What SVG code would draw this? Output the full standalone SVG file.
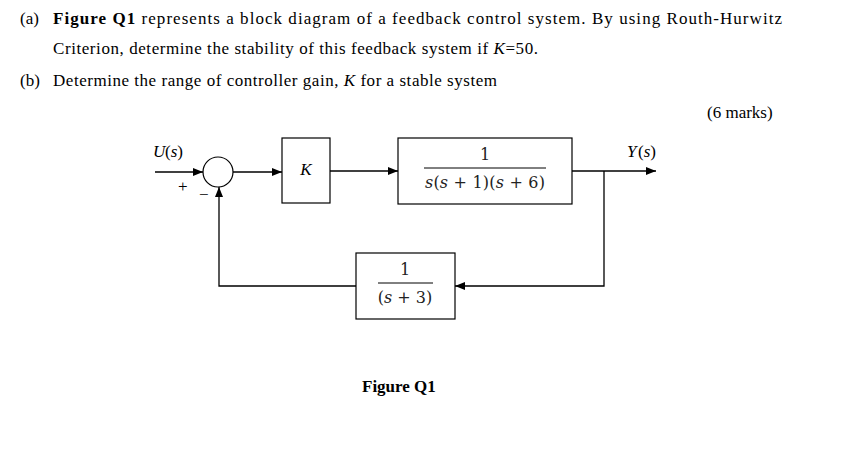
<svg xmlns="http://www.w3.org/2000/svg" width="867" height="462" viewBox="0 0 867 462">
<defs><marker id="ah" markerWidth="10" markerHeight="8" refX="10" refY="4" orient="auto" markerUnits="userSpaceOnUse"><path d="M0,0 L10,4 L0,8 z" fill="#000"/></marker></defs>
<style>
.t{font-family:"Liberation Serif",serif;font-size:17px;fill:#000}
.m{font-family:"DejaVu Serif","Liberation Serif",serif;font-size:16px;fill:#222}
.b{fill:#fff;stroke:#000;stroke-width:1.2}
.c{stroke:#000;stroke-width:1.3;fill:none}
</style>
<rect width="867" height="462" fill="#fff"/>
<text class="t" x="20" y="24">(a)</text>
<text class="t" x="53" y="24" textLength="729" lengthAdjust="spacing"><tspan font-weight="bold">Figure Q1</tspan> represents a block diagram of a feedback control system. By using Routh-Hurwitz</text>
<text class="t" x="53" y="54" textLength="485" lengthAdjust="spacing">Criterion, determine the stability of this feedback system if <tspan font-style="italic">K</tspan>=50.</text>
<text class="t" x="20" y="86">(b)</text>
<text class="t" x="53" y="86" textLength="444" lengthAdjust="spacing">Determine the range of controller gain, <tspan font-style="italic">K</tspan> for a stable system</text>
<text class="t" x="707" y="118">(6 marks)</text>
<g id="sum"><circle class="b" cx="218" cy="172" r="15"/><text class="t" x="178" y="192" font-size="14">+</text><text class="t" x="199" y="200" font-size="14">−</text></g>
<g id="K"><rect class="b" x="282" y="138" width="48" height="65"/><text class="t" x="306" y="175" font-style="italic" text-anchor="middle">K</text></g>
<g id="G"><rect class="b" x="398" y="138" width="174" height="66"/><text class="m" x="485" y="160" text-anchor="middle">1</text><line x1="424" y1="168" x2="546" y2="168" stroke="#000"/><text class="m" x="485" y="188" text-anchor="middle" textLength="120" lengthAdjust="spacing"><tspan font-style="italic">s</tspan>(<tspan font-style="italic">s</tspan> + 1)(<tspan font-style="italic">s</tspan> + 6)</text></g>
<g id="H"><rect class="b" x="356" y="253" width="99" height="66"/><text class="m" x="405" y="275" text-anchor="middle">1</text><line x1="378" y1="283" x2="433" y2="283" stroke="#000"/><text class="m" x="405" y="303" text-anchor="middle">(<tspan font-style="italic">s</tspan> + 3)</text></g>
<text class="t" x="153" y="157" font-style="italic">U</text><text class="t" x="165" y="157">(<tspan font-style="italic">s</tspan>)</text>
<text class="t" x="627" y="157" font-style="italic">Y</text><text class="t" x="638" y="157">(<tspan font-style="italic">s</tspan>)</text>
<text class="t" x="362" y="392" font-weight="bold">Figure Q1</text>
<g id="connectors">
<line class="c" x1="155" y1="172" x2="203" y2="172" marker-end="url(#ah)"/>
<line class="c" x1="233" y1="172" x2="282" y2="172" marker-end="url(#ah)"/>
<line class="c" x1="330" y1="171" x2="398" y2="171" marker-end="url(#ah)"/>
<line class="c" x1="572" y1="171" x2="656" y2="171" marker-end="url(#ah)"/>
<polyline class="c" points="604,171 604,286 455,286" marker-end="url(#ah)"/>
<polyline class="c" points="356,286 219,286 219,187" marker-end="url(#ah)"/>
</g>
</svg>
